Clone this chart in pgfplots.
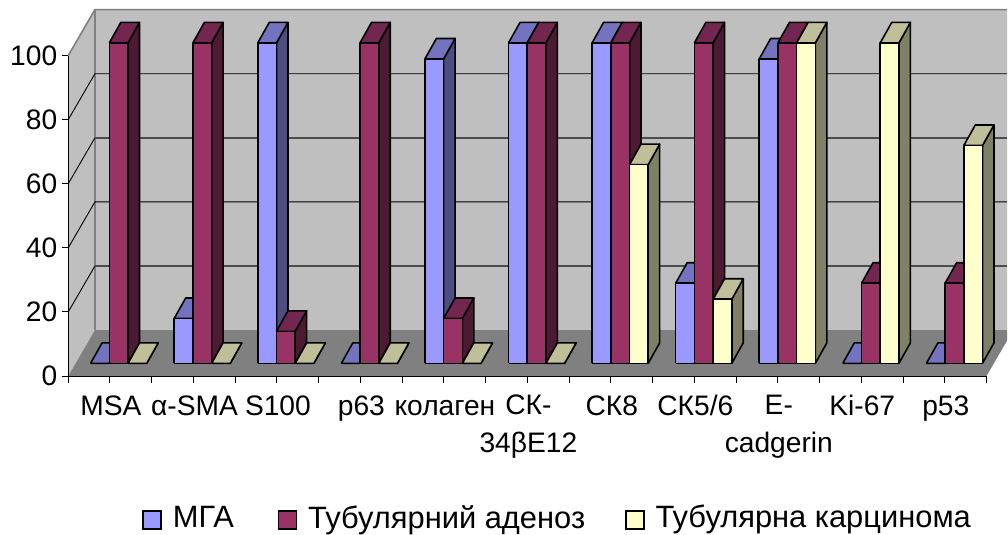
\documentclass[border=0pt]{standalone}
\usepackage{fontspec}
\setmainfont{Liberation Sans}
\usepackage{pgfplots}
\usepackage{pgfplotstable}
\pgfplotsset{compat=1.18}

\definecolor{aF}{HTML}{9999FF}\definecolor{aS}{HTML}{4D4D80}\definecolor{aT}{HTML}{7373BF}
\definecolor{bF}{HTML}{993366}\definecolor{bS}{HTML}{4D1A33}\definecolor{bT}{HTML}{732650}
\definecolor{cF}{HTML}{FFFFCC}\definecolor{cS}{HTML}{808066}\definecolor{cT}{HTML}{BFBF99}

% values per category, 3 series
\pgfplotstableread{
mga aden carc
0   100  0
14  100  0
100 10   0
0   100  0
95  14   0
100 100  0
100 100  62
25  100  20
95  100  100
0   25   100
0   25   68
}\bardata

% #1 colour prefix, #2 category, #3 series index, #4 value
\newcommand{\tdbar}[4]{%
  \pgfmathsetmacro{\xl}{#2*1.0012+0.268+#3*0.224}%
  \pgfmathsetmacro{\xr}{\xl+0.224}%
  \pgfmathsetmacro{\xL}{\xl+0.1376}%
  \pgfmathsetmacro{\xR}{\xr+0.1376}%
  \pgfmathsetmacro{\yb}{3.96}%
  \pgfmathsetmacro{\yt}{3.96+#4}%
  \pgfmathsetmacro{\yB}{\yb+6.39}%
  \pgfmathsetmacro{\yT}{\yt+6.39}%
  \addplot[fill=#1S,barline,forget plot] coordinates {(\xr,\yb) (\xR,\yB) (\xR,\yT) (\xr,\yt) (\xr,\yb)};
  \addplot[fill=#1T,barline,forget plot] coordinates {(\xl,\yt) (\xr,\yt) (\xR,\yT) (\xL,\yT) (\xl,\yt)};
  \addplot[fill=#1F,barline,forget plot] coordinates {(\xl,\yb) (\xr,\yb) (\xr,\yt) (\xl,\yt) (\xl,\yb)};
}

\tikzset{barline/.style={draw=black,line width=1.6bp,line join=round}}

\begin{document}
\begin{tikzpicture}
\begin{axis}[
    scale only axis,
    width=919bp, height=320.7bp,
    xmin=0, xmax=11, ymin=0, ymax=100,
    clip=false,
    axis on top,
    axis lines=left,
    axis line style={-,black,line width=1bp},
    tick style={black,line width=1bp},
    tick align=outside,
    major tick length=6.5bp,
    xtick={0.5,1.5,...,10.5},
    xticklabels={MSA,α-SMA,S100,p63,колаген,СК-\\34βЕ12,СК8,СК5/6,Е-\\cadgerin,Ki-67,p53},
    extra x ticks={0,1,...,11},
    extra x tick labels={},
    ytick={0,20,...,100},
    /pgf/number format/assume math mode=true,
    tick label style={font=\fontsize{28.3}{38}\selectfont},
    xticklabel style={align=center,yshift=-9bp,xshift=1bp,execute at begin node=\rule{0pt}{20bp}},
    yticklabel style={xshift=-1bp},
    legend style={at={(axis cs:0.886,-44.1)},anchor=west,draw=none,fill=none,
      font=\fontsize{31}{36}\selectfont,inner sep=0pt,
      /tikz/every odd column/.style={column sep=9bp},
      /tikz/column 2/.style={column sep=42bp},
      /tikz/column 4/.style={column sep=38bp}},
    legend columns=3,
    legend cell align=left,
    legend image code/.code={\draw[#1,draw=black,line width=1.5bp] (0bp,-11.5bp) rectangle (18bp,6.5bp);},
]
% page extent
\path (axis cs:-0.8174,-49.46) rectangle (axis cs:11.248,117.35);

% walls and floor
\addplot[fill=black!25,draw=none,forget plot] coordinates {(0.3196,14.34) (11.248,14.34) (11.248,114.34) (0.3196,114.34) (0.3196,14.34)};
\addplot[fill=black!25,draw=none,forget plot] coordinates {(0,0) (0.3196,14.34) (0.3196,114.34) (0,100) (0,0)};
\addplot[fill=black!50,draw=none,forget plot] coordinates {(0,0) (11,0) (11.248,11.13) (11.248,14.34) (0.3196,14.34) (0,0)};
\addplot[draw=black!50,line width=1.6bp,forget plot] coordinates {(0,100) (0.3196,114.34) (11.248,114.34)};
\addplot[draw=black!50,line width=1.2bp,forget plot] coordinates {(0.3196,14.34) (0.3196,114.34)};

% gridlines
\addplot[black,line width=0.9bp,forget plot] coordinates {(0,80) (0.3196,94.34) (11.248,94.34)};
\addplot[black,line width=0.9bp,forget plot] coordinates {(0,60) (0.3196,74.34)};
\addplot[black!70,line width=1.4bp,forget plot] coordinates {(0.3196,74.34) (11.248,74.34)};
\addplot[black,line width=0.9bp,forget plot] coordinates {(0,40) (0.3196,54.34) (11.248,54.34)};
\addplot[black,line width=0.9bp,forget plot] coordinates {(0,20) (0.3196,34.34)};
\addplot[black!70,line width=1.4bp,forget plot] coordinates {(0.3196,34.34) (11.248,34.34)};

% bars
\pgfplotsinvokeforeach{0,...,10}{
  \pgfplotstablegetelem{#1}{mga}\of\bardata \let\va\pgfplotsretval
  \pgfplotstablegetelem{#1}{aden}\of\bardata \let\vb\pgfplotsretval
  \pgfplotstablegetelem{#1}{carc}\of\bardata \let\vc\pgfplotsretval
  \tdbar{a}{#1}{0}{\va}
  \tdbar{b}{#1}{1}{\vb}
  \tdbar{c}{#1}{2}{\vc}
}

\addlegendimage{fill=aF}
\addlegendimage{fill=bF}
\addlegendimage{fill=cF}
\legend{МГА,Тубулярний аденоз,Тубулярна карцинома}
\end{axis}
\end{tikzpicture}
\end{document}
